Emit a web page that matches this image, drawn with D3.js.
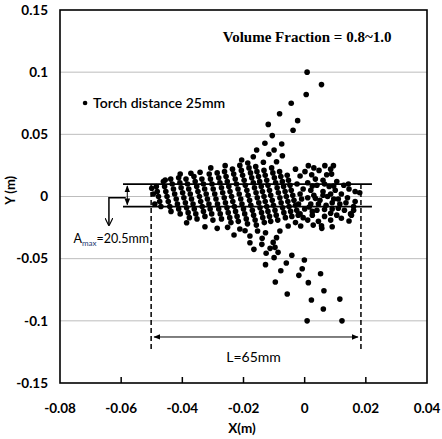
<!DOCTYPE html>
<html>
<head>
<meta charset="utf-8">
<script src="https://cdn.jsdelivr.net/npm/d3@7"></script>
<style>
  body { margin: 0; background: #fff; }
  svg { display: block; }
</style>
</head>
<body>
<div id="chart"></div>
<script>
const xTicks = [-0.08, -0.06, -0.04, -0.02, 0, 0.02, 0.04];
const yTicks = [0.15, 0.1, 0.05, 0, -0.05, -0.1, -0.15];
const gridY = [0.1, 0.05, 0, -0.05, -0.1];

// particles thrown above the band
const upperPlume = [
  [0.0008, 0.100], [0.0055, 0.090], [0.0005, 0.082], [-0.0044, 0.075], [-0.0023, 0.061],
  [-0.0082, 0.0666], [-0.0038, 0.0533], [-0.0119, 0.058], [-0.0106, 0.049], [-0.013, 0.0428],
  [-0.0075, 0.0422], [-0.0157, 0.0374], [-0.010, 0.0374], [-0.0073, 0.0328], [-0.0117, 0.034],
  [-0.0168, 0.032], [-0.0135, 0.0275], [-0.0092, 0.028], [-0.0206, 0.0294], [0.0012, 0.0248],
  [0.0066, 0.0248], [0.0094, 0.0248], [-0.026, 0.0248], [-0.0307, 0.023], [-0.0342, 0.0195],
  [-0.0372, 0.0187], [-0.0407, 0.018], [-0.0456, 0.0133], [-0.050, 0.0066]
];

// particles thrown below the band
const lowerPlume = [
  [0.0008, -0.100], [0.0122, -0.100], [0.0061, -0.0905], [0.0022, -0.0833], [0.0115, -0.0825],
  [0.0063, -0.0758], [-0.0057, -0.0784], [0.0012, -0.0693], [-0.0096, -0.0688], [0.0052, -0.0621],
  [-0.0019, -0.0634], [-0.0078, -0.0597], [-0.0008, -0.0581], [-0.0128, -0.0548], [-0.006, -0.0535],
  [-0.0001, -0.0511], [-0.0042, -0.0473], [-0.010, -0.0492], [-0.0087, -0.0449], [-0.0126, -0.0457],
  [-0.0097, -0.0409], [-0.0166, -0.0425], [-0.0113, -0.0417], [-0.014, -0.0385], [-0.0179, -0.0372],
  [-0.0103, -0.0369], [-0.0139, -0.0336], [-0.0179, -0.0318], [-0.0092, -0.0331], [-0.0231, -0.031],
  [-0.0154, -0.0278], [-0.0195, -0.0275], [-0.0128, -0.0291], [-0.0081, -0.0278], [-0.0286, -0.0256],
  [-0.0326, -0.0243], [-0.0386, -0.0211], [0.0056, -0.0256], [0.009, -0.0243], [0.0145, -0.0197],
  [-0.0252, -0.0248], [-0.0054, -0.0237], [-0.0013, -0.0237], [0.0028, -0.023], [-0.0212, -0.0261]
];

// dense core: slanted streaks of droplets
const corePoints = [
  [-0.0495, 0.002], [-0.049, -0.006],
  [-0.0485, 0.008], [-0.0482, 0.004], [-0.0478, 0.000], [-0.0474, -0.004], [-0.0470, -0.008],
  [-0.0462, 0.012], [-0.0458, 0.008], [-0.0454, 0.004], [-0.0450, 0.000], [-0.0446, -0.004], [-0.0441, -0.008], [-0.0437, -0.012],
  [-0.0438, 0.014], [-0.0433, 0.010], [-0.0429, 0.006], [-0.0425, 0.002], [-0.0420, -0.002], [-0.0416, -0.006], [-0.0412, -0.010], [-0.0407, -0.014],
  [-0.0412, 0.015], [-0.0408, 0.011], [-0.0404, 0.007], [-0.0399, 0.003], [-0.0395, -0.001], [-0.0390, -0.005], [-0.0386, -0.009], [-0.0381, -0.013], [-0.0377, -0.017],
  [-0.0388, 0.014], [-0.0383, 0.010], [-0.0379, 0.006], [-0.0374, 0.002], [-0.0370, -0.002], [-0.0365, -0.006], [-0.0361, -0.010], [-0.0356, -0.014], [-0.0352, -0.018],
  [-0.0362, 0.016], [-0.0358, 0.012], [-0.0353, 0.008], [-0.0349, 0.004], [-0.0344, 0.000], [-0.0340, -0.004], [-0.0335, -0.008], [-0.0331, -0.012], [-0.0326, -0.016],
  [-0.0336, 0.014], [-0.0331, 0.010], [-0.0327, 0.006], [-0.0322, 0.002], [-0.0318, -0.002], [-0.0313, -0.006], [-0.0309, -0.010], [-0.0304, -0.014], [-0.0300, -0.019],
  [-0.0312, 0.018], [-0.0308, 0.014], [-0.0303, 0.010], [-0.0299, 0.006], [-0.0294, 0.002], [-0.0290, -0.002], [-0.0285, -0.006], [-0.0281, -0.010], [-0.0276, -0.014], [-0.0272, -0.018],
  [-0.0286, 0.019], [-0.0281, 0.015], [-0.0277, 0.011], [-0.0272, 0.007], [-0.0268, 0.003], [-0.0263, -0.001], [-0.0259, -0.005], [-0.0254, -0.009], [-0.0250, -0.013], [-0.0245, -0.017], [-0.0241, -0.021],
  [-0.0262, 0.020], [-0.0257, 0.016], [-0.0253, 0.012], [-0.0248, 0.008], [-0.0244, 0.004], [-0.0239, 0.000], [-0.0235, -0.004], [-0.0230, -0.008], [-0.0226, -0.012], [-0.0221, -0.016], [-0.0217, -0.020],
  [-0.0236, 0.022], [-0.0232, 0.018], [-0.0227, 0.014], [-0.0223, 0.010], [-0.0218, 0.006], [-0.0214, 0.002], [-0.0209, -0.002], [-0.0205, -0.006], [-0.0200, -0.010], [-0.0196, -0.014], [-0.0191, -0.018], [-0.0187, -0.022],
  [-0.0212, 0.025], [-0.0207, 0.021], [-0.0203, 0.017], [-0.0198, 0.013], [-0.0194, 0.009], [-0.0189, 0.005], [-0.0185, 0.001], [-0.0180, -0.003], [-0.0176, -0.007], [-0.0171, -0.011], [-0.0167, -0.015], [-0.0162, -0.019], [-0.0158, -0.023],
  [-0.0186, 0.027], [-0.0182, 0.023], [-0.0177, 0.019], [-0.0173, 0.015], [-0.0168, 0.011], [-0.0164, 0.007], [-0.0159, 0.003], [-0.0155, -0.001], [-0.0150, -0.005], [-0.0146, -0.009], [-0.0141, -0.013], [-0.0137, -0.017], [-0.0132, -0.021],
  [-0.0160, 0.024], [-0.0156, 0.020], [-0.0151, 0.016], [-0.0147, 0.012], [-0.0142, 0.008], [-0.0138, 0.004], [-0.0133, 0.000], [-0.0129, -0.004], [-0.0124, -0.008], [-0.0120, -0.012], [-0.0115, -0.016], [-0.0111, -0.020],
  [-0.0133, 0.021], [-0.0129, 0.017], [-0.0124, 0.013], [-0.0120, 0.009], [-0.0115, 0.005], [-0.0111, 0.001], [-0.0106, -0.003], [-0.0102, -0.007], [-0.0097, -0.011], [-0.0093, -0.015], [-0.0088, -0.019],
  [-0.0108, 0.023], [-0.0104, 0.019], [-0.0099, 0.015], [-0.0095, 0.011], [-0.0090, 0.007], [-0.0086, 0.003], [-0.0081, -0.001], [-0.0077, -0.005], [-0.0072, -0.009], [-0.0068, -0.013], [-0.0063, -0.017],
  [-0.0082, 0.020], [-0.0078, 0.016], [-0.0073, 0.012], [-0.0069, 0.008], [-0.0064, 0.004], [-0.0060, 0.000], [-0.0055, -0.004], [-0.0051, -0.008], [-0.0046, -0.012], [-0.0042, -0.016],
  [-0.0057, 0.017], [-0.0053, 0.013], [-0.0048, 0.009], [-0.0044, 0.005], [-0.0039, 0.001], [-0.0035, -0.003], [-0.0030, -0.007], [-0.0026, -0.011], [-0.0021, -0.015]
];

// looser cluster on the right of the core
const rightCluster = [
  [0.0001, 0.020], [0.0047, 0.021], [0.0088, 0.018], [0.0072, 0.0175], [0.0023, 0.0175], [-0.0015, 0.0165],
  [0.0035, 0.014], [0.0060, 0.013], [0.0105, 0.012], [0.0010, 0.011], [0.0128, 0.009], [0.0145, 0.006],
  [0.0165, 0.004], [0.0080, 0.008], [0.0040, 0.009], [-0.0005, 0.006], [0.0020, 0.005], [0.0060, 0.004],
  [0.0100, 0.005], [0.0120, 0.002], [0.0030, 0.001], [0.0075, 0.000], [-0.0010, -0.002], [0.0050, -0.003],
  [0.0095, -0.002], [0.0140, -0.001], [0.0165, -0.004], [0.0020, -0.006], [0.0070, -0.007], [0.0115, -0.006],
  [0.0000, -0.010], [0.0040, -0.011], [0.0090, -0.010], [0.0130, -0.011], [0.0150, -0.014], [-0.0015, -0.014],
  [0.0025, -0.015], [0.0065, -0.016], [0.0105, -0.015], [0.0010, -0.019], [0.0045, -0.020], [0.0160, -0.008],
  [0.0085, -0.019],
  [-0.003, 0.022], [0.003, 0.023], [0.0085, 0.022], [-0.0025, 0.010], [0.0025, 0.0085], [0.0065, 0.010],
  [0.0095, 0.0085], [0.0143, 0.010], [0.018, 0.003], [-0.0015, 0.002], [0.001, -0.001], [0.0035, -0.0015],
  [0.006, 0.001], [0.0085, 0.002], [0.011, -0.002], [-0.002, -0.006], [0.0045, -0.006], [0.009, -0.005],
  [0.0135, -0.005], [0.0015, -0.0085], [0.0065, -0.0105], [0.011, -0.0095], [0.0153, -0.015], [0.016, -0.011],
  [-0.0005, -0.017], [0.0085, -0.0135], [0.012, -0.0175], [0.0055, -0.0235], [-0.003, -0.021], [0.0025, -0.012]
];

// annotation geometry in data units
const bandLevels = [0.010, -0.0082];      // amplitude band
const bandExtent = [-0.0594, 0.022];
const bandArrowX = -0.058;
const elbow = { x0: -0.0585, x1: -0.064, y: -0.001, yEnd: -0.023 };
const lengthEdges = [-0.0502, 0.0184];    // L = 65 mm
const lengthDashEnd = -0.125;
const lengthArrowY = -0.113;
const legendPos = [-0.0718, 0.0752];

const width = 442, height = 439;
const margin = { top: 10, right: 15, bottom: 56, left: 60 };

const x = d3.scaleLinear().domain([-0.08, 0.04]).range([margin.left, width - margin.right]);
const y = d3.scaleLinear().domain([-0.15, 0.15]).range([height - margin.bottom, margin.top]);

const svg = d3.select("#chart").append("svg")
  .attr("width", width)
  .attr("height", height);

const defs = svg.append("defs");
defs.append("marker")
  .attr("id", "arrow")
  .attr("viewBox", "0 0 10 10")
  .attr("refX", 9).attr("refY", 5)
  .attr("markerWidth", 7).attr("markerHeight", 7)
  .attr("orient", "auto-start-reverse")
  .append("path")
  .attr("d", "M0,1 L10,5 L0,9 z")
  .attr("fill", "#000");
defs.append("marker")
  .attr("id", "vee")
  .attr("viewBox", "0 0 10 10")
  .attr("refX", 9).attr("refY", 5)
  .attr("markerWidth", 8).attr("markerHeight", 8)
  .attr("markerUnits", "userSpaceOnUse")
  .attr("orient", "auto")
  .append("path")
  .attr("d", "M0,0 L10,5 L0,10")
  .attr("fill", "none")
  .attr("stroke", "#000")
  .attr("stroke-width", 1.5);

// grid lines
svg.append("g")
  .selectAll("line")
  .data(gridY)
  .join("line")
  .attr("x1", x.range()[0]).attr("x2", x.range()[1])
  .attr("y1", d => y(d)).attr("y2", d => y(d))
  .attr("stroke", "#bdbdbd")
  .attr("stroke-width", 1);

// x ticks (inside, from bottom)
svg.append("g")
  .selectAll("line")
  .data(xTicks.slice(1, -1))
  .join("line")
  .attr("x1", d => x(d)).attr("x2", d => x(d))
  .attr("y1", y(-0.15)).attr("y2", y(-0.15) - 6)
  .attr("stroke", "#000")
  .attr("stroke-width", 1.5);

// tick labels
const tickFont = "Lato, 'Open Sans', sans-serif";
svg.append("g")
  .selectAll("text")
  .data(xTicks)
  .join("text")
  .attr("x", d => x(d))
  .attr("y", y(-0.15) + 30)
  .attr("text-anchor", "middle")
  .attr("font-family", tickFont)
  .attr("font-weight", "bold")
  .attr("font-size", 13.5)
  .text(d => String(d));

svg.append("g")
  .selectAll("text")
  .data(yTicks)
  .join("text")
  .attr("x", margin.left - 12)
  .attr("y", d => y(d))
  .attr("dy", "0.35em")
  .attr("text-anchor", "end")
  .attr("font-family", tickFont)
  .attr("font-weight", "bold")
  .attr("font-size", 13.5)
  .text(d => String(d));

// axis titles
svg.append("text")
  .attr("x", x(-0.0205))
  .attr("y", height - 6)
  .attr("text-anchor", "middle")
  .attr("font-family", tickFont)
  .attr("font-weight", "bold")
  .attr("font-size", 13.5)
  .text("X(m)");

svg.append("text")
  .attr("transform", `translate(15,${y(0.005)}) rotate(-90)`)
  .attr("text-anchor", "middle")
  .attr("font-family", tickFont)
  .attr("font-weight", "bold")
  .attr("font-size", 13)
  .text("Y (m)");

// dashed length markers
svg.append("g")
  .selectAll("line")
  .data(lengthEdges)
  .join("line")
  .attr("x1", d => x(d)).attr("x2", d => x(d))
  .attr("y1", y(bandLevels[0])).attr("y2", y(lengthDashEnd))
  .attr("stroke", "#000")
  .attr("stroke-width", 1.5)
  .attr("stroke-dasharray", "5,3");

svg.append("line")
  .attr("x1", x(lengthEdges[0]) + 3).attr("x2", x(lengthEdges[1]) - 3)
  .attr("y1", y(lengthArrowY)).attr("y2", y(lengthArrowY))
  .attr("stroke", "#000")
  .attr("stroke-width", 1)
  .attr("marker-start", "url(#arrow)")
  .attr("marker-end", "url(#arrow)");

svg.append("text")
  .attr("x", x(-0.0167))
  .attr("y", y(lengthArrowY) + 25)
  .attr("text-anchor", "middle")
  .attr("font-family", tickFont)
  .attr("font-size", 14)
  .text("L=65mm");

// droplets
const allPoints = [].concat(corePoints, rightCluster, upperPlume, lowerPlume);
svg.append("g")
  .selectAll("circle")
  .data(allPoints)
  .join("circle")
  .attr("cx", d => x(d[0]))
  .attr("cy", d => y(d[1]))
  .attr("r", 2.8)
  .attr("fill", "#000");

// amplitude band lines
svg.append("g")
  .selectAll("line")
  .data(bandLevels)
  .join("line")
  .attr("x1", x(bandExtent[0])).attr("x2", x(bandExtent[1]))
  .attr("y1", d => y(d)).attr("y2", d => y(d))
  .attr("stroke", "#000")
  .attr("stroke-width", 1.8);

svg.append("line")
  .attr("x1", x(bandArrowX)).attr("x2", x(bandArrowX))
  .attr("y1", y(bandLevels[0]) + 2).attr("y2", y(bandLevels[1]) - 2)
  .attr("stroke", "#000")
  .attr("stroke-width", 1)
  .attr("marker-start", "url(#arrow)")
  .attr("marker-end", "url(#arrow)");

svg.append("path")
  .attr("d", `M${x(elbow.x0)},${y(elbow.y)} H${x(elbow.x1)} V${y(elbow.yEnd)}`)
  .attr("fill", "none")
  .attr("stroke", "#000")
  .attr("stroke-width", 1.5)
  .attr("marker-end", "url(#vee)");

const amax = svg.append("text")
  .attr("x", x(-0.0756))
  .attr("y", y(-0.037))
  .attr("font-family", tickFont)
  .attr("font-size", 12.5)
  .attr("fill", "#000");
amax.append("tspan").text("A");
amax.append("tspan").attr("font-size", 8).attr("dy", 3).attr("fill", "#1f3b73").text("max");
amax.append("tspan").attr("dy", -3).text("=20.5mm");

// legend
svg.append("circle")
  .attr("cx", x(legendPos[0]))
  .attr("cy", y(legendPos[1]))
  .attr("r", 2.3)
  .attr("fill", "#000");
svg.append("text")
  .attr("x", x(legendPos[0]) + 8)
  .attr("y", y(legendPos[1]))
  .attr("dy", "0.35em")
  .attr("font-family", tickFont)
  .attr("font-size", 14)
  .attr("font-weight", 600)
  .text("Torch distance 25mm");

svg.append("text")
  .attr("x", x(0.0008))
  .attr("y", y(0.1287))
  .attr("dy", "0.35em")
  .attr("text-anchor", "middle")
  .attr("font-family", "'Liberation Serif', 'Times New Roman', serif")
  .attr("font-weight", "bold")
  .attr("font-size", 15)
  .text("Volume Fraction = 0.8~1.0");

// plot frame
svg.append("rect")
  .attr("x", x(-0.08)).attr("y", y(0.15))
  .attr("width", x(0.04) - x(-0.08))
  .attr("height", y(-0.15) - y(0.15))
  .attr("fill", "none")
  .attr("stroke", "#000")
  .attr("stroke-width", 1.6);
</script>
</body>
</html>
